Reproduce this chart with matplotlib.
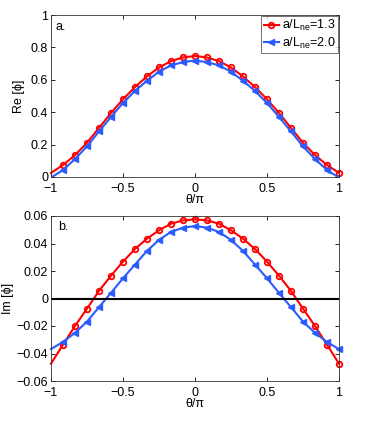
import numpy as np
import matplotlib
matplotlib.use("Agg")
import matplotlib.pyplot as plt

plt.rcParams['font.family'] = ['Liberation Sans', 'DejaVu Sans']
plt.rcParams['mathtext.fontset'] = 'custom'
plt.rcParams['mathtext.rm'] = 'Liberation Sans'
plt.rcParams['mathtext.it'] = 'Liberation Sans:italic'

theta = np.linspace(-1, 1, 25)
labels = ['a/L$_{\\mathrm{ne}}$=1.3', 'a/L$_{\\mathrm{ne}}$=2.0']

re_red = [0.025, 0.074, 0.135, 0.211, 0.303, 0.395, 0.480, 0.555, 0.621, 0.676, 0.715, 0.738, 0.747,
          0.738, 0.715, 0.676, 0.621, 0.555, 0.480, 0.395, 0.303, 0.211, 0.135, 0.074, 0.025]
re_blue = [-0.004, 0.043, 0.111, 0.189, 0.281, 0.371, 0.457, 0.531, 0.594, 0.650, 0.689, 0.709, 0.719,
           0.709, 0.689, 0.650, 0.594, 0.531, 0.457, 0.371, 0.281, 0.189, 0.111, 0.043, -0.004]
im_red = [-0.0474, -0.0336, -0.0200, -0.0074, 0.0055, 0.0166, 0.0268, 0.0360, 0.0435, 0.0496, 0.0544, 0.0568, 0.0576,
          0.0568, 0.0544, 0.0496, 0.0435, 0.0360, 0.0268, 0.0166, 0.0055, -0.0074, -0.0200, -0.0336, -0.0474]
im_blue = [-0.0368, -0.0316, -0.0250, -0.0168, -0.0063, 0.0041, 0.0147, 0.0247, 0.0346, 0.0426, 0.0484, 0.0515, 0.0527,
           0.0515, 0.0484, 0.0426, 0.0346, 0.0247, 0.0147, 0.0041, -0.0063, -0.0168, -0.0250, -0.0316, -0.0368]

red = '#ff0000'
blue = '#2a5cff'
fs = 9

fig = plt.figure(figsize=(3.74, 4.28), dpi=100)
W, H = 374, 428
ax1 = fig.add_axes([51 / W, 1 - 177 / H, 288 / W, 162 / H])
ax2 = fig.add_axes([51 / W, 1 - 381 / H, 288 / W, 165 / H])

mk = list(range(1, 25))
for ax, r, b in [(ax1, re_red, re_blue), (ax2, im_red, im_blue)]:
    ax.plot(theta, r, color=red, lw=1.5, marker='o', ms=4, mfc='none', mew=1.3,
            markevery=mk, label=labels[0], clip_on=False)
    ax.plot(theta, b, color=blue, lw=1.5, marker='<', ms=4.8, mfc=blue, mew=1.0,
            markevery=mk, label=labels[1], clip_on=(ax is ax1))
    ax.set_xlim(-1, 1)
    ax.set_xticks([-1, -0.5, 0, 0.5, 1])
    ax.set_xticklabels(['\u22121', '\u22120.5', '0', '0.5', '1'])
    ax.tick_params(direction='in', top=True, right=True, labelsize=fs, length=3, width=0.6)
    ax.tick_params(axis='y', pad=2)
    ax.tick_params(axis='x', pad=4.5)
    for s in ax.spines.values():
        s.set_linewidth(0.6)
        s.set_color('#333333')
    ax.set_xlabel('\u03b8/\u03c0', fontsize=fs, labelpad=-1)

ax1.set_ylim(0, 1)
ax1.set_yticks([0, 0.2, 0.4, 0.6, 0.8, 1])
ax1.set_yticklabels(['0', '0.2', '0.4', '0.6', '0.8', '1'])
ax1.set_ylabel('Re [\u03d5]', fontsize=fs)
ax1.yaxis.set_label_coords(-0.09, 0.5)
ax1.text(-0.97, 0.925, 'a.', fontsize=fs, va='center')
leg = ax1.legend(loc='upper right', fontsize=fs, frameon=True, fancybox=False,
                 handlelength=1.2, handletextpad=0.25, borderpad=0.2, labelspacing=0.2,
                 borderaxespad=0.05)
leg.get_frame().set_edgecolor('#333333')
leg.get_frame().set_linewidth(0.6)

ax2.axhline(0, color='black', lw=1.5)
ax2.set_ylim(-0.06, 0.06)
ax2.set_yticks([-0.06, -0.04, -0.02, 0, 0.02, 0.04, 0.06])
ax2.set_yticklabels(['\u22120.06', '\u22120.04', '\u22120.02', '0', '0.02', '0.04', '0.06'])
ax2.set_ylabel('Im [\u03d5]', fontsize=fs)
ax2.yaxis.set_label_coords(-0.13, 0.5)
ax2.text(-0.95, 0.052, 'b.', fontsize=fs, va='center')

fig.savefig('out.png', dpi=100)
